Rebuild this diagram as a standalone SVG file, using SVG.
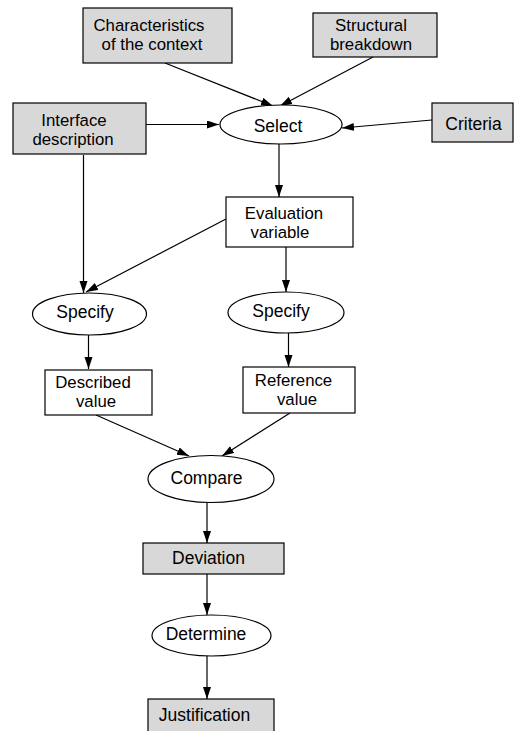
<svg xmlns="http://www.w3.org/2000/svg" width="514" height="731" viewBox="0 0 514 731">
<defs>
<marker id="ah" markerUnits="userSpaceOnUse" markerWidth="13" markerHeight="9" refX="12" refY="4" orient="auto">
<path d="M0,0 L12,4 L0,8 z" fill="#000"/>
</marker>
</defs>
<style>
.g{fill:#d8d8d8;stroke:#000;stroke-width:1.2}
.w{fill:#fff;stroke:#000;stroke-width:1.2}
.c line{stroke:#000;stroke-width:1.2;marker-end:url(#ah)}
text{font-family:"Liberation Sans",Arial,sans-serif;font-size:17.5px;fill:#000;text-anchor:middle}
.t2{font-size:16.8px}
</style>
<rect width="514" height="731" fill="#fff"/>
<g class="c">
<line x1="165" y1="63" x2="273" y2="106"/>
<line x1="373" y1="57" x2="280" y2="106"/>
<line x1="146" y1="124.5" x2="219" y2="124.5"/>
<line x1="432" y1="120" x2="342" y2="128"/>
<line x1="279" y1="144" x2="279" y2="197"/>
<line x1="83.5" y1="155" x2="83.5" y2="293"/>
<line x1="226" y1="219" x2="86" y2="292"/>
<line x1="286" y1="247" x2="286" y2="292"/>
<line x1="88.5" y1="335" x2="88.5" y2="369"/>
<line x1="288.5" y1="333" x2="288.5" y2="367"/>
<line x1="96" y1="415" x2="189" y2="456"/>
<line x1="290" y1="413" x2="222" y2="456"/>
<line x1="207" y1="502" x2="207" y2="543"/>
<line x1="207" y1="574" x2="207" y2="615"/>
<line x1="207" y1="656" x2="207" y2="699"/>
</g>
<g id="characteristics"><rect class="g" x="83" y="8" width="149" height="55"/><text class="t2" x="149" y="30.5">Characteristics</text><text class="t2" x="152" y="49.5">of the context</text></g>
<g id="structural"><rect class="g" x="313" y="13" width="124" height="44"/><text class="t2" x="371" y="30.5">Structural</text><text class="t2" x="371" y="49.5">breakdown</text></g>
<g id="interface"><rect class="g" x="13" y="103" width="133" height="51"/><text class="t2" x="74" y="125.5">Interface</text><text class="t2" x="73" y="144.5">description</text></g>
<g id="criteria"><rect class="g" x="432" y="103" width="81" height="39"/><text x="473.5" y="130">Criteria</text></g>
<g id="select"><ellipse class="w" cx="281" cy="124.5" rx="61" ry="19.5"/><text x="278" y="132">Select</text></g>
<g id="evaluation"><rect class="w" x="226" y="197" width="127" height="50"/><text class="t2" x="284" y="218.5">Evaluation</text><text class="t2" x="280" y="237.5">variable</text></g>
<g id="specify1"><ellipse class="w" cx="89.5" cy="314" rx="57" ry="21"/><text x="85" y="318">Specify</text></g>
<g id="specify2"><ellipse class="w" cx="286" cy="312.5" rx="58" ry="20.5"/><text x="281" y="317">Specify</text></g>
<g id="described"><rect class="w" x="45" y="370" width="107" height="45"/><text class="t2" x="93" y="387.5">Described</text><text class="t2" x="96" y="406.5">value</text></g>
<g id="reference"><rect class="w" x="243" y="367" width="112" height="46"/><text class="t2" x="293.5" y="385.5">Reference</text><text class="t2" x="297" y="404.5">value</text></g>
<g id="compare"><ellipse class="w" cx="211" cy="479" rx="63" ry="23.5"/><text x="206.5" y="484">Compare</text></g>
<g id="deviation"><rect class="g" x="143" y="543" width="141" height="31"/><text x="208.5" y="564">Deviation</text></g>
<g id="determine"><ellipse class="w" cx="211.5" cy="635.5" rx="59.5" ry="20.5"/><text x="206" y="640">Determine</text></g>
<g id="justification"><rect class="g" x="148" y="699" width="126" height="40"/><text x="204.5" y="721">Justification</text></g>
</svg>
